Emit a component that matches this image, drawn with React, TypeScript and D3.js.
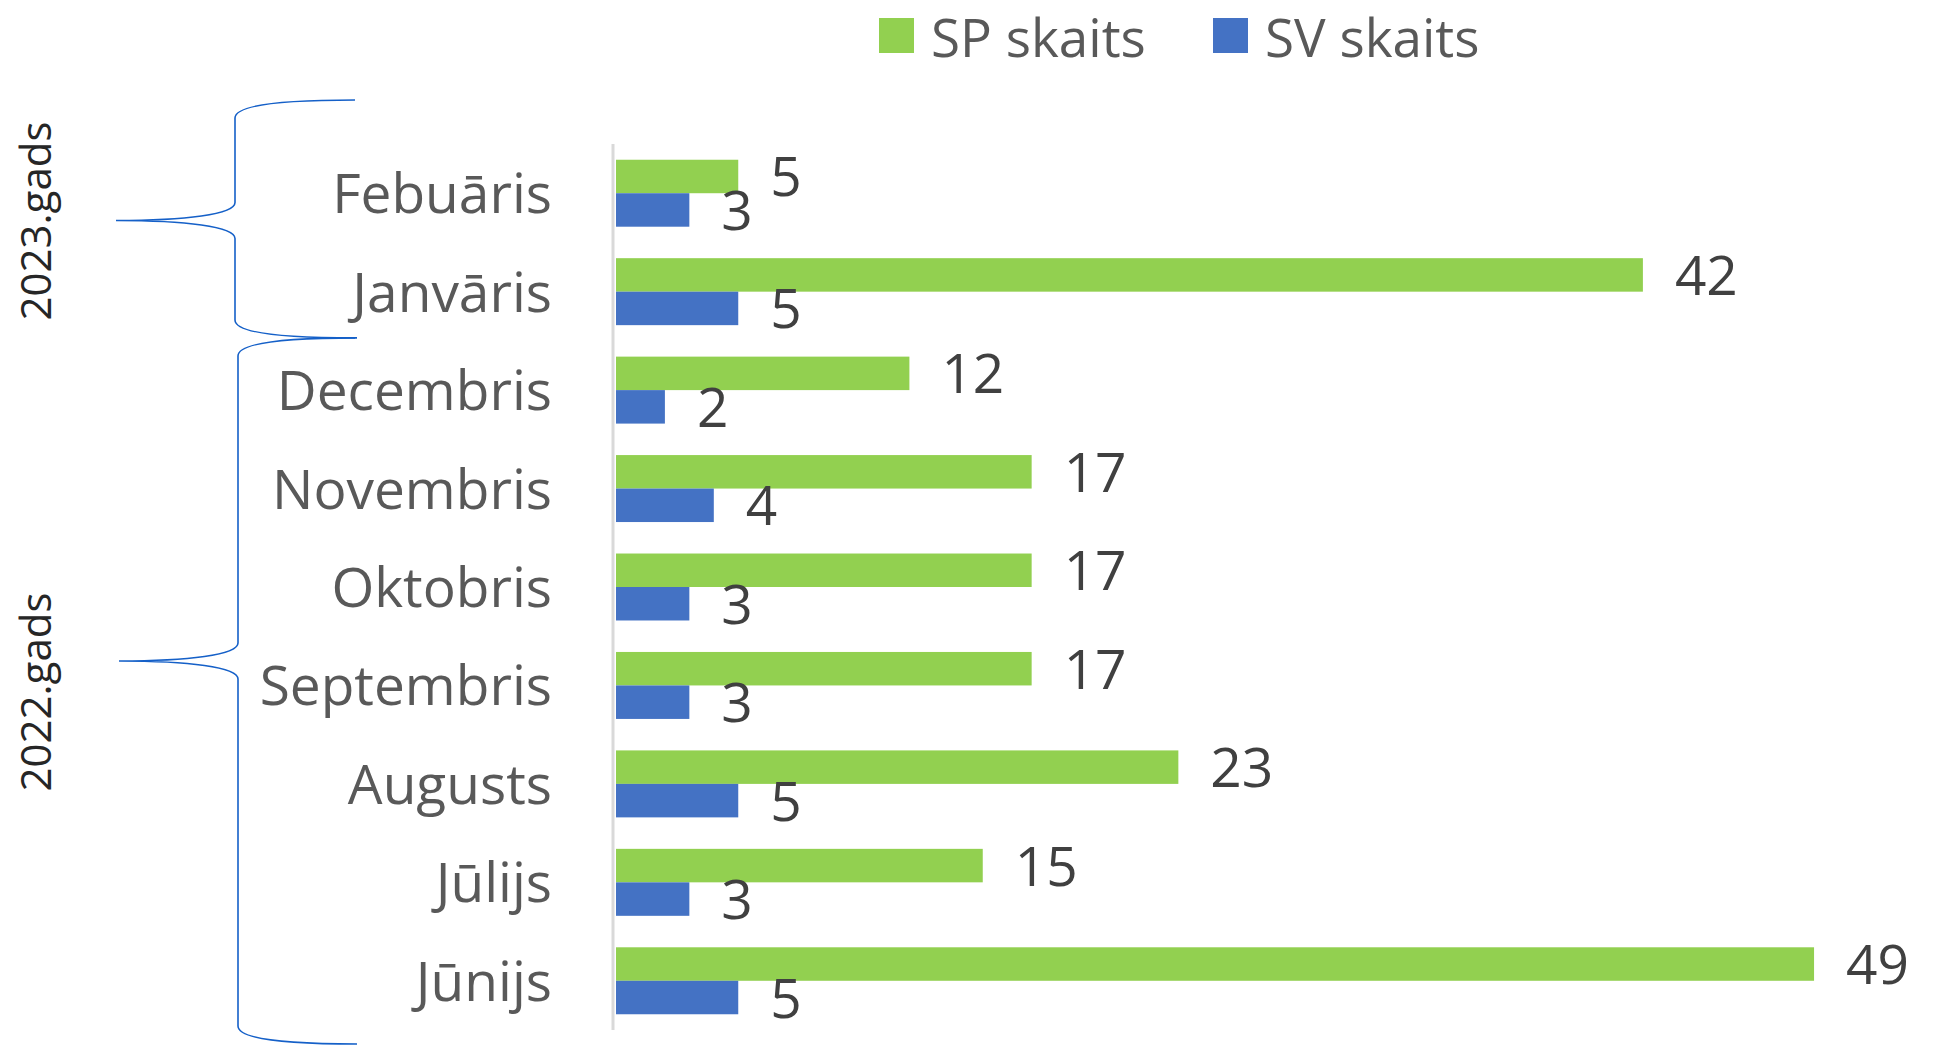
import * as d3 from "d3";

// Mēneši no augšas uz leju
const MENESI = [
  "Febuāris",
  "Janvāris",
  "Decembris",
  "Novembris",
  "Oktobris",
  "Septembris",
  "Augusts",
  "Jūlijs",
  "Jūnijs",
];
const SP_SKAITS = [5, 42, 12, 17, 17, 17, 23, 15, 49];
const SV_SKAITS = [3, 5, 2, 4, 3, 3, 5, 3, 5];
const SERIJAS = ["SP skaits", "SV skaits"];
const KRASAS = ["#92D050", "#4472C4"];

// Gadu grupas (sākuma un beigu mēneša indekss)
const GADI = [
  { nosaukums: "2023.gads", no: 0, lidz: 1 },
  { nosaukums: "2022.gads", no: 2, lidz: 8 },
];

const W = 1933;
const H = 1045;
const FONT = "'Open Sans', 'Noto Sans', sans-serif";

const App = () => {
  const y = d3.scaleBand<string>().domain(MENESI).range([144, 1030]).padding(0);
  const yIekš = d3
    .scaleBand<string>()
    .domain(SERIJAS)
    .range([0, y.bandwidth()])
    .paddingInner(0)
    .paddingOuter(0.47);
  const x = d3.scaleLinear().domain([0, 50]).range([616, 616 + 50 * 24.45]);

  const vertibas = [SP_SKAITS, SV_SKAITS];

  // Figūriekava
  const iekava = (augsa: number, vidus: number, apaksa: number, gals: number, ass: number, smaile: number) => {
    const p = d3.path();
    p.moveTo(gals, augsa);
    p.bezierCurveTo(ass + 40, augsa, ass, augsa + 6, ass, augsa + 18);
    p.lineTo(ass, vidus - 18);
    p.bezierCurveTo(ass, vidus - 6, ass - 50, vidus, smaile, vidus);
    p.bezierCurveTo(ass - 50, vidus, ass, vidus + 6, ass, vidus + 18);
    p.lineTo(ass, apaksa - 18);
    p.bezierCurveTo(ass, apaksa - 6, ass + 40, apaksa, gals, apaksa);
    return p.toString();
  };

  const robeza = (i: number) => (y(MENESI[i]) ?? 0);
  const iekavas = [
    { d: iekava(robeza(0) - 44, (robeza(0) - 44 + robeza(2)) / 2, robeza(2) - 3, 355, 235, 116), tekstsY: 221 },
    { d: iekava(robeza(2) - 3, 661, 1044, 357, 238, 119), tekstsY: 692 },
  ];

  return (
    <svg
      width={W}
      height={H}
      style={{ position: "absolute", left: 0, top: 0, background: "#fff" }}
      fontFamily={FONT}
    >
      {/* Leģenda */}
      {SERIJAS.map((s, i) => {
        const lx = i === 0 ? 879 : 1213;
        return (
          <g key={s}>
            <rect x={lx} y={18} width={35} height={35} fill={KRASAS[i]} />
            <text x={lx + 52} y={57} fontSize={53} fill="#595959">
              {s}
            </text>
          </g>
        );
      })}

      {/* Joslas */}
      {MENESI.map((m, mi) => (
        <g key={m} transform={`translate(0,${y(m)})`}>
          {SERIJAS.map((s, si) => {
            const v = vertibas[si][mi];
            const by = yIekš(s) ?? 0;
            const bh = yIekš.bandwidth();
            return (
              <g key={s}>
                <rect x={x(0)} y={by} width={x(v) - x(0)} height={bh} fill={KRASAS[si]} />
                <text x={x(v) + 32} y={by + bh / 2 + 20} fontSize={55} fill="#404040">
                  {v}
                </text>
              </g>
            );
          })}
          <text
            x={552}
            y={y.bandwidth() / 2 + 20}
            textAnchor="end"
            fontSize={55}
            fill="#595959"
          >
            {m}
          </text>
        </g>
      ))}

      {/* Ass */}
      <line x1={613} x2={613} y1={144} y2={1030} stroke="#d9d9d9" strokeWidth={3} />

      {/* Gadu iekavas */}
      {GADI.map((g, i) => (
        <g key={g.nosaukums}>
          <path d={iekavas[i].d} fill="none" stroke="#1560C8" strokeWidth={1.6} />
          <text
            transform={`translate(51,${iekavas[i].tekstsY}) rotate(-90)`}
            textAnchor="middle"
            fontSize={42}
            fill="#262626"
          >
            {g.nosaukums}
          </text>
        </g>
      ))}
    </svg>
  );
};

export default App;
